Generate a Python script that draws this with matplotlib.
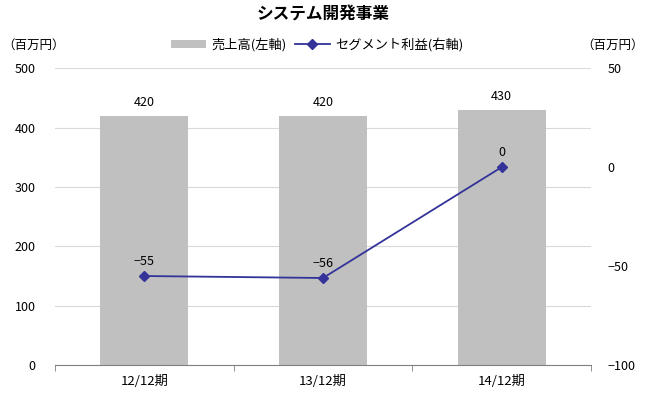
import matplotlib
matplotlib.use("Agg")
import matplotlib.pyplot as plt
import numpy as np

plt.rcParams['font.family'] = ['Noto Sans CJK JP', 'DejaVu Sans']

# data
periods = ['12/12期', '13/12期', '14/12期']
sales = [420, 420, 430]          # 売上高 (左軸)
segment_profit = [-55, -56, 0]   # セグメント利益 (右軸)

bar_color = '#c0c0c0'
line_color = '#333399'

fig = plt.figure(figsize=(6.46, 3.96), dpi=100)
ax = fig.add_axes([0.085, 0.078, 0.83, 0.75])
x = np.arange(len(periods))

bars = ax.bar(x, sales, width=0.49, color=bar_color, zorder=2, label='売上高(左軸)')
ax.set_ylim(0, 500)
ax.set_xlim(-0.5, len(periods) - 0.5)
ax.set_yticks(np.arange(0, 501, 100))
ax.yaxis.grid(True, color='#d9d9d9', linewidth=0.8, zorder=0)
ax.set_axisbelow(True)
for b, v in zip(bars, sales):
    ax.text(b.get_x() + b.get_width() / 2, v + 11, str(v), ha='center', va='bottom', fontsize=9)

ax.set_xticks(x)
ax.set_xticklabels(periods, fontsize=9.5)
ax.set_xticks(np.arange(-0.5, len(periods)), minor=True)
ax.tick_params(axis='x', which='major', length=0, pad=7)
ax.tick_params(axis='x', which='minor', length=4, color='#808080')
ax.tick_params(axis='y', length=0, labelsize=9, pad=14)
for s in ['top', 'left', 'right']:
    ax.spines[s].set_visible(False)
ax.spines['bottom'].set_color('#808080')

ax2 = ax.twinx()
ax2.plot(x, segment_profit, color=line_color, marker='D', markersize=5, linewidth=1.3,
         zorder=3, label='セグメント利益(右軸)')
ax2.set_ylim(-100, 50)
ax2.set_yticks([-100, -50, 0, 50])
ax2.tick_params(axis='y', length=0, labelsize=9, pad=12)
for s in ['top', 'left', 'right', 'bottom']:
    ax2.spines[s].set_visible(False)
for xi, v in zip(x, segment_profit):
    ax2.text(xi, v + 4, str(v).replace('-', '\u2212'), ha='center', va='bottom', fontsize=9)

fig.text(0.5, 0.963, 'システム開発事業', ha='center', va='center', fontsize=12, fontweight='bold')
fig.text(0.003, 0.885, '（百万円）', ha='left', va='center', fontsize=9)
fig.text(0.997, 0.885, '（百万円）', ha='right', va='center', fontsize=9)

handles = [bars, ax2.get_lines()[0]]
fig.legend(handles, [h.get_label() for h in handles], loc='center', ncol=2,
           bbox_to_anchor=(0.491, 0.887), frameon=False, fontsize=9.5,
           handlelength=2.7, handleheight=0.6, columnspacing=0.6, handletextpad=0.4)

fig.savefig('out.png', dpi=100)
